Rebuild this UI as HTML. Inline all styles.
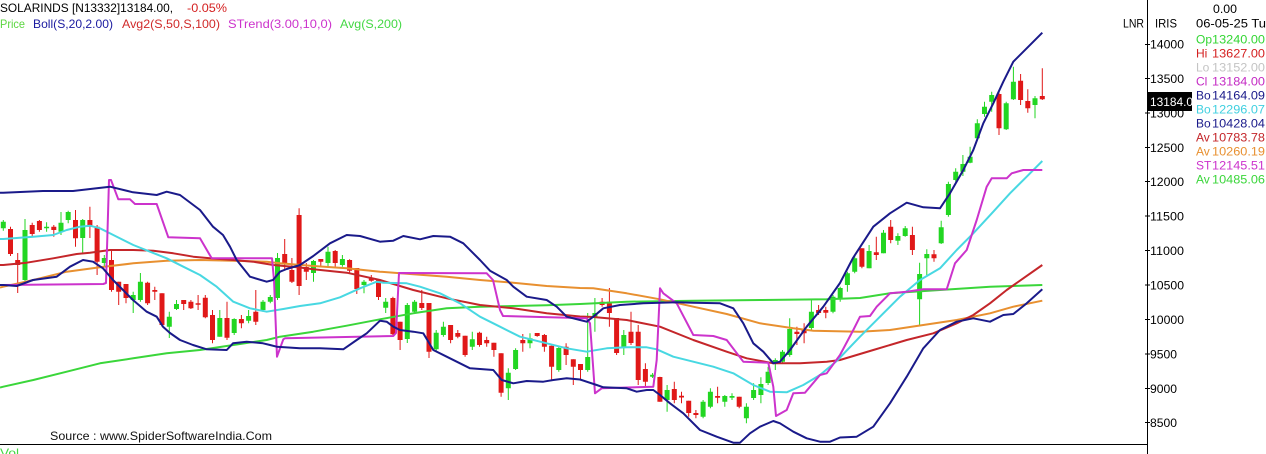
<!DOCTYPE html>
<html><head><meta charset="utf-8"><style>
html,body{margin:0;padding:0;background:#fff;width:1266px;height:454px;overflow:hidden}
svg{display:block}
text{font-family:"Liberation Sans",Arial,sans-serif;font-size:12px}
</style></head><body>
<svg width="1266" height="454" viewBox="0 0 1266 454" xmlns="http://www.w3.org/2000/svg">
<rect width="1266" height="454" fill="#fff"/>
<!-- candles wicks -->
<path fill="none" stroke="#22d622" stroke-width="1" d="M3.3 220V230.7M25 219V282M46.6 222.3V231.7M61 212V235M68.2 210.7V223.3M82.7 219V253M104.3 255V266.7M133.2 291.7V313M140.4 273V301.7M169.3 311.7V338M176.5 300V310M219.8 310V336.7M234.2 318.3V335M248.6 310V323.3M263 300V311.7M270.3 295V303.3M277.5 253V300M313.5 260V281.7M328 246.7V267M342.4 255V266.7M364 280V293.3M385.7 298V313M407.3 303V343M414.6 300V313.3M436.2 330V351.7M443.4 321.7V336.7M472.3 331.7V350M508.3 368.3V400M515.6 348.3V370M530 333.3V348.3M558.8 346.7V371.7M587.7 313V371.7M594.9 298V331.7M623.8 330V355M652.6 373V378M667.1 385V411.7M703.1 400V418.3M710.4 388.3V408.3M724.8 395V406.7M732 393.3V400M746.4 403.3V423.3M753.6 383.3V400M760.9 377.3V403.3M768.1 366.7V385M775.3 358.3V370M782.5 350V363.3M789.7 318.3V356.7M811.4 300V330M833 295V313.3M840.2 286.7V301.7M847.4 271.7V291.7M854.7 255V273.3M869.1 245V268.3M883.5 230V253.3M897.9 233.3V245M905.2 226V236.7M919.6 262.7V325M926.8 249.3V275M941.2 220.7V244M948.4 181.7V216.7M955.7 168.3V181.7M962.9 155V176M970.1 146.7V163.3M977.3 119.3V140M984.5 101.7V116.7M991.7 91.7V111.7M1006.2 101.7V130M1013.4 66.7V100M1035 96V118.3"/>
<path fill="none" stroke="#e01818" stroke-width="1" d="M10.5 226.7V256M17.7 253V293M32.2 222.7V236M39.4 220V231.7M53.8 225V236.7M75.5 210V246.7M89.9 206.7V238M97.1 225V275M111.5 250V291.7M118.7 281.7V305M126 284V303.3M147.6 281.7V305M154.8 286.7V300M162 293.3V326.7M183.7 300V310M190.9 300V309M198.1 295V310M205.3 295V318.3M212.5 310V343.3M227 301.7V340M241.4 315V328.3M255.8 290V325M284.7 239V270M291.9 258V283M299.1 208.3V295M306.3 263V280M320.8 259V267.3M335.2 250V268.3M349.6 259.3V273.3M356.8 268V294M371.3 275V281.7M378.5 280V300M392.9 296.7V335M400.1 321.7V350M421.8 290V310M429 303V358M450.6 325V343.3M457.8 330V338.3M465.1 335.7V356.7M479.5 331.7V346.7M486.7 336.7V346.7M493.9 342.7V356.7M501.1 353.3V396.7M522.8 334V351.7M537.2 333V336.7M544.4 334V351.7M551.6 345.7V380M566.1 343.3V365M573.3 359.3V385M580.5 364V379M602.1 298V306.7M609.4 288V326.7M616.6 318V355M631 311.7V345M638.2 325V385M645.4 363.3V386.7M659.9 376.7V401.7M674.3 381.7V403.3M681.5 391.7V403.3M688.7 400.7V416.7M695.9 410V418.3M717.6 386.7V403.3M739.2 396.7V408.3M796.9 326.7V345M804.1 323.3V343.3M818.6 305V315M825.8 306.7V318.3M861.9 248.3V268.3M876.3 236.7V260M890.7 220V243.3M912.4 226.7V255M934 250V261.7M999 91.7V135M1020.6 74V105M1027.8 89.3V112.7M1042.3 68.3V100"/>
<!-- candle bodies -->
<path fill="#22d622" d="M0.8 221.7h5V228.3h-5zM22.5 230h5V280h-5zM44.1 226.7h5V228.3h-5zM58.5 222.7h5V231.7h-5zM65.7 212h5V220h-5zM80.2 220h5V238h-5zM101.8 258h5V263h-5zM130.7 295h5V300h-5zM137.9 281.7h5V300h-5zM166.8 316.7h5V326.7h-5zM174 304h5V309h-5zM217.3 318h5V336.7h-5zM231.7 319h5V333h-5zM246.1 316h5V320.7h-5zM260.5 301.7h5V310h-5zM267.8 297h5V301.7h-5zM275 258h5V298h-5zM311 261h5V273h-5zM325.5 251.7h5V263h-5zM339.9 259h5V265h-5zM361.5 281.7h5V285h-5zM383.2 301.7h5V307.7h-5zM404.8 305h5V339h-5zM412.1 301.7h5V311.7h-5zM433.7 332.7h5V349.3h-5zM440.9 326.7h5V335h-5zM469.8 339.3h5V346.7h-5zM505.8 372.7h5V388.3h-5zM513.1 350h5V369h-5zM527.5 338.3h5V343.3h-5zM556.3 348h5V370h-5zM585.2 357h5V370h-5zM592.4 313h5V318h-5zM621.3 335h5V348h-5zM650.1 374.8h5V376.7h-5zM664.6 390h5V400h-5zM700.6 401.7h5V416.7h-5zM707.9 391.7h5V406.7h-5zM722.3 396h5V401.7h-5zM729.5 396h5V397.8h-5zM743.9 406.7h5V418.3h-5zM751.1 390h5V398h-5zM758.4 384h5V395h-5zM765.6 371.7h5V383h-5zM772.8 360h5V362.7h-5zM780 351.7h5V361.7h-5zM787.2 329h5V355h-5zM808.9 311.7h5V328h-5zM830.5 296.7h5V311.7h-5zM837.7 288h5V298h-5zM844.9 273.3h5V285h-5zM852.2 258.3h5V271.7h-5zM866.6 251h5V268.3h-5zM881 232.7h5V253.3h-5zM895.4 236h5V240.7h-5zM902.7 228.3h5V236h-5zM917.1 274h5V299.3h-5zM924.3 254h5V258.3h-5zM938.7 227.3h5V243.3h-5zM945.9 184h5V215h-5zM953.2 171.7h5V180h-5zM960.4 164h5V171.7h-5zM967.6 156.7h5V162.7h-5zM974.8 123.3h5V138.3h-5zM982 106.7h5V114h-5zM989.2 95h5V101.7h-5zM1003.7 103.3h5V129.3h-5zM1010.9 81.7h5V99.3h-5zM1032.5 98.3h5V105h-5z"/>
<path fill="#e01818" d="M8 229h5V254h-5zM15.2 260h5V265h-5zM29.7 225h5V234h-5zM36.9 221h5V230h-5zM51.3 226.7h5V230h-5zM73 220h5V238.3h-5zM87.4 220h5V226.7h-5zM94.6 226.7h5V261.7h-5zM109 260h5V290h-5zM116.2 281.7h5V291.7h-5zM123.5 284h5V298h-5zM145.1 282.7h5V303.3h-5zM152.3 290h5V291.7h-5zM159.5 293.3h5V325h-5zM181.2 300h5V304h-5zM188.4 301.7h5V308.3h-5zM195.6 303.3h5V304.8h-5zM202.8 297.7h5V317.3h-5zM210 315h5V340h-5zM224.5 318h5V337.7h-5zM238.9 319h5V323.3h-5zM253.3 311.7h5V321.7h-5zM282.2 254h5V263h-5zM289.4 270h5V281.7h-5zM296.6 215h5V286h-5zM303.8 267h5V271.7h-5zM318.3 259h5V261.7h-5zM332.7 251h5V263h-5zM347.1 260h5V270.7h-5zM354.3 268h5V289h-5zM368.8 278h5V280.7h-5zM376 280h5V297h-5zM390.4 298h5V334.3h-5zM397.6 321.7h5V340h-5zM419.3 303h5V308h-5zM426.5 303h5V351.7h-5zM448.1 325h5V340h-5zM455.3 333h5V336.7h-5zM462.6 335.7h5V355h-5zM477 332.7h5V345h-5zM484.2 340h5V343.3h-5zM491.4 342.7h5V350h-5zM498.6 353.3h5V392.7h-5zM520.3 340h5V343.3h-5zM534.7 333h5V336h-5zM541.9 335h5V346.7h-5zM549.1 345.7h5V366.7h-5zM563.6 346.7h5V355h-5zM570.8 359.3h5V366.7h-5zM578 364h5V370h-5zM599.6 301.7h5V305h-5zM606.9 301.7h5V313h-5zM614.1 318h5V353h-5zM628.5 331.7h5V343h-5zM635.7 331.7h5V380h-5zM642.9 369h5V381.7h-5zM657.4 377h5V401.7h-5zM671.8 389h5V400h-5zM679 395.8h5V397.5h-5zM686.2 400.7h5V413h-5zM693.4 413h5V415h-5zM715.1 396h5V397.8h-5zM736.7 396.7h5V406.7h-5zM794.4 331.7h5V334h-5zM801.6 329h5V333.3h-5zM816.1 310h5V313h-5zM823.3 310h5V312.7h-5zM859.4 248.3h5V266.7h-5zM873.8 252.3h5V255h-5zM888.2 226.7h5V240h-5zM909.9 235h5V250h-5zM931.5 254.3h5V258.3h-5zM996.5 94h5V128.3h-5zM1018.1 80.7h5V100h-5zM1025.3 101h5V108.3h-5zM1039.8 96h5V99.3h-5z"/>
<!-- indicator lines -->
<g fill="none" stroke-width="2" stroke-linejoin="round">
<polyline stroke="#3ad63a" points="0,387.5 3.3,386.7 33.3,380 66.7,371.7 100,363.3 133.3,358.3 166.7,353.3 200,350 233.3,345 266.7,340 280,336.7 313.3,331.7 346.7,325.7 380,319.3 413.3,313.3 446.7,308.3 480,306.7 513.3,306 546.7,305.3 580,304 626.7,301.7 693.3,300.7 760,300 826.7,299.3 860,298 890,293.3 940,290 990,286.7 1042.3,285"/>
<polyline stroke="#e89030" points="0,287.5 3.3,286.7 33.3,280 66.7,271.7 100,267.3 133.3,263.3 166.7,260.7 200,260 233.3,260.7 266.7,261.7 280,263.3 313.3,266 346.7,268.3 380,271.7 413.3,274.3 446.7,276.7 480,280 513.3,282.7 546.7,286 580,288 593.3,288.3 626.7,293.3 660,299.3 693.3,306.7 726.7,314 760,323.3 793.3,328.3 813.3,330.7 860,331.7 890,330 923.3,325 956.7,320 990,313.3 1013.3,306.7 1042.3,300.7"/>
<polyline stroke="#c4262a" points="0,265 3.3,265 26.7,262.7 53.3,258.3 76.7,254 90,252.7 110,250 133.3,250 153.3,250.7 173.3,253.3 193.3,256.7 210,258.3 233.3,260 253.3,261.7 273.3,265 300,267.5 313.3,269.3 346.7,272.7 380,280 413.3,290 446.7,298.3 480,305 513.3,308.3 546.7,313.3 580,316.5 593.3,317 626.7,320 660,326.7 693.3,340 726.7,351.7 746.7,358.3 773.3,363.3 800,363.3 826.7,361.7 840,360 873.3,350 906.7,340 933.3,333.3 956.7,323.3 973.3,315 990,303.3 1006.7,290 1023.3,278.3 1042.3,265"/>
<polyline stroke="#48d8e2" points="0,239 3.3,239 33.3,236.7 53.3,235 66.7,230 80,226.7 90,225.7 100,228.3 113.3,235 133.3,245 150,251.7 166.7,258.3 183.3,266.7 200,275 216.7,286.7 233.3,301.7 250,308.3 266.7,311.7 283.3,309 300,306 320,303.3 340,297.3 360,288.3 376.7,281.7 383.3,282.7 406.7,283.3 420,286.7 440,293.3 460,303.3 480,316.7 500,326.7 520,336.7 546.7,343.3 566.7,348.3 586.7,351.7 606.7,348.3 626.7,347.3 646.7,347.3 656.7,349.3 673.3,356.7 693.3,361.7 713.3,366.7 733.3,373.3 753.3,385 770,391.7 786.7,392.3 803.3,385 820,375 836.7,361 860,336.7 880,316.7 900,296.7 920,280 940,268.3 956.7,250 973.3,233.3 993.3,211.7 1010,193.3 1026.7,176.7 1042.3,161"/>
<polyline stroke="#cc33cc" points="0,285 3.3,285 103.3,284 106,283 109,180 111,180 118.3,199.3 130,199.3 135,204 156.7,204 168.3,237.3 200,238.3 211.7,258.3 272,258.3 274,280 277,356.7 283.3,339.3 285,338.3 393.3,336 396,333 399,273 486.7,273.3 493,280 500,310 503,316 586.7,318.3 590,323.3 595,393.3 601.7,388.3 653.3,386.7 656.7,360 660,288.3 663.3,293.3 676.7,303.3 693.3,335 713.3,336 726.7,340 743.3,361.7 768.3,362.7 773.3,386.7 776,416 786.7,410 793.3,393.3 805,392.7 820,375 826.7,373.3 840,355 853.3,330 860,316.7 870,316 876.7,306.7 890,293.3 906.7,291.7 923.3,289.3 946.7,289.3 955,263.3 966.7,250 976.7,220 986.7,186.7 991.7,178.3 1006.7,178.3 1011.7,173.3 1023.3,170 1042.3,170"/>
<polyline stroke="#1a1a8a" points="0,192.7 3.3,192.7 43,191 73,191 96.7,188.3 110,186.7 133,192.3 156.7,195 166.7,191.7 180,195 200,210 213,226.7 223,235 230,246.7 236.7,260 250,276.7 266.7,281.7 273,280 280,271.7 286.7,269 300,265 313.3,256 330,243.3 346.7,235 360,236 380,241.7 393.3,240.7 403.3,236 420,239.3 433.3,236 450,236.7 463.3,243.3 480,260 490,270.7 506.7,280 513.3,286.7 526.7,296.7 546.7,300 556.7,306.7 566.7,316.7 580,320 586.7,321.7 593.3,316.7 603.3,308.3 620,305 643.3,303.3 660,302.7 676.7,302.3 693.3,302.7 720,303.3 733.3,308.3 743.3,323.3 753.3,343.3 763.3,351.7 773.3,363.3 780,361.7 790,350 806.7,326.7 823.3,306.7 840,283 853,258 873.3,226.7 890,213.3 906.7,202.7 923.3,207.3 940,208.3 950,193.3 963.3,170 973.3,150 983.3,123.3 993.3,103.3 1003.3,81.7 1013.3,61.7 1026.7,48.3 1042.3,32.7"/>
<polyline stroke="#1a1a8a" points="0,285 3.3,285 16.7,286 33,280 56.7,276.7 70,266.7 83,260 93,261.7 103,268.3 113,280 123,290 133,300 146.7,311.7 156.7,316.7 163,326.7 170,333 180,340 193,345 206.7,349.3 226.7,350 233,343.3 246.7,341.7 263,343.3 270,345 276.7,346.7 300,348.3 320,348.3 343.3,349.3 356.7,340 366.7,333.3 380,320.7 386.7,321.7 393.3,326.7 400,330 413.3,331.7 423.3,333.3 433.3,350 446.7,356.7 460,363.3 470,368.3 493.3,370 501.7,380 513.3,383.3 526.7,381 543.3,381.7 553.3,380 566.7,378.3 580,379.5 596.7,385 603.3,387.3 626.7,388.3 636.7,391.7 646.7,390 653.3,390 660,395 670,403.3 683.3,413.3 700,430 716.7,436.7 733.3,442.7 740,442.7 750,433.3 760,426.7 773.3,421 780,423.3 793.3,431.7 806.7,438.3 820,441.7 830,441.7 840,437.5 856.7,436.7 873.3,426.7 890,403.3 906.7,376.7 923.3,348.3 940,330 956.7,321.7 973.3,318.3 990,321.7 1003.3,315 1013.3,314 1026.7,303.3 1042.3,289.3"/>
</g>
<!-- frame -->
<line x1="0" y1="444.5" x2="1147" y2="444.5" stroke="#000" stroke-width="1"/>
<line x1="1147.5" y1="0" x2="1147.5" y2="454" stroke="#000" stroke-width="1"/>
<g stroke="#000" stroke-width="1">
<line x1="1145" y1="44.5" x2="1150" y2="44.5"/><line x1="1145" y1="78.5" x2="1150" y2="78.5"/><line x1="1145" y1="113" x2="1150" y2="113"/><line x1="1145" y1="147.5" x2="1150" y2="147.5"/><line x1="1145" y1="181.5" x2="1150" y2="181.5"/><line x1="1145" y1="216" x2="1150" y2="216"/><line x1="1145" y1="250.5" x2="1150" y2="250.5"/><line x1="1145" y1="285" x2="1150" y2="285"/><line x1="1145" y1="319.5" x2="1150" y2="319.5"/><line x1="1145" y1="354" x2="1150" y2="354"/><line x1="1145" y1="388.5" x2="1150" y2="388.5"/><line x1="1145" y1="422.5" x2="1150" y2="422.5"/>
</g>
<g fill="#000">
<text x="1150" y="48.5" textLength="34" lengthAdjust="spacingAndGlyphs">14000</text>
<text x="1150" y="83" textLength="34" lengthAdjust="spacingAndGlyphs">13500</text>
<text x="1150" y="117.5" textLength="34" lengthAdjust="spacingAndGlyphs">13000</text>
<text x="1150" y="151.8" textLength="34" lengthAdjust="spacingAndGlyphs">12500</text>
<text x="1150" y="186.2" textLength="34" lengthAdjust="spacingAndGlyphs">12000</text>
<text x="1150" y="220.6" textLength="34" lengthAdjust="spacingAndGlyphs">11500</text>
<text x="1150" y="255.1" textLength="34" lengthAdjust="spacingAndGlyphs">11000</text>
<text x="1150" y="289.5" textLength="34" lengthAdjust="spacingAndGlyphs">10500</text>
<text x="1150" y="323.9" textLength="34" lengthAdjust="spacingAndGlyphs">10000</text>
<text x="1150" y="358.3" textLength="27" lengthAdjust="spacingAndGlyphs">9500</text>
<text x="1150" y="392.8" textLength="27" lengthAdjust="spacingAndGlyphs">9000</text>
<text x="1150" y="427.2" textLength="27" lengthAdjust="spacingAndGlyphs">8500</text>
</g>
<rect x="1148" y="92" width="44" height="19" fill="#000"/>
<text x="1150" y="106" fill="#fff" font-size="12.5" textLength="43" lengthAdjust="spacingAndGlyphs">13184.0</text>
<!-- top-right info -->
<text x="1123" y="27.5" fill="#000" textLength="21" lengthAdjust="spacingAndGlyphs">LNR</text>
<text x="1155" y="27.5" fill="#000" textLength="22" lengthAdjust="spacingAndGlyphs">IRIS</text>
<text x="1213" y="13" fill="#000" textLength="24" lengthAdjust="spacingAndGlyphs">0.00</text>
<text x="1196" y="27.5" fill="#000" textLength="70" lengthAdjust="spacingAndGlyphs">06-05-25 Tu</text>
<g font-size="12">
<text x="1196" y="43.5" fill="#33d633">Op</text><text x="1212" y="43.5" fill="#33d633" font-size="12.5" textLength="53" lengthAdjust="spacingAndGlyphs">13240.00</text>
<text x="1196" y="57.5" fill="#d42020">Hi</text><text x="1212" y="57.5" fill="#d42020" font-size="12.5" textLength="53" lengthAdjust="spacingAndGlyphs">13627.00</text>
<text x="1196" y="71.5" fill="#c4c4c4">Lo</text><text x="1212" y="71.5" fill="#c4c4c4" font-size="12.5" textLength="53" lengthAdjust="spacingAndGlyphs">13152.00</text>
<text x="1196" y="85.5" fill="#c42ac4">Cl</text><text x="1212" y="85.5" fill="#c42ac4" font-size="12.5" textLength="53" lengthAdjust="spacingAndGlyphs">13184.00</text>
<text x="1196" y="99.5" fill="#1a1a8a">Bo</text><text x="1212" y="99.5" fill="#1a1a8a" font-size="12.5" textLength="53" lengthAdjust="spacingAndGlyphs">14164.09</text>
<text x="1196" y="113.5" fill="#40d0e0">Bo</text><text x="1212" y="113.5" fill="#40d0e0" font-size="12.5" textLength="53" lengthAdjust="spacingAndGlyphs">12296.07</text>
<text x="1196" y="127.5" fill="#1a1a8a">Bo</text><text x="1212" y="127.5" fill="#1a1a8a" font-size="12.5" textLength="53" lengthAdjust="spacingAndGlyphs">10428.04</text>
<text x="1196" y="141.5" fill="#c4262a">Av</text><text x="1212" y="141.5" fill="#c4262a" font-size="12.5" textLength="53" lengthAdjust="spacingAndGlyphs">10783.78</text>
<text x="1196" y="155.5" fill="#e89030">Av</text><text x="1212" y="155.5" fill="#e89030" font-size="12.5" textLength="53" lengthAdjust="spacingAndGlyphs">10260.19</text>
<text x="1196" y="169.5" fill="#cc33cc">ST</text><text x="1212" y="169.5" fill="#cc33cc" font-size="12.5" textLength="53" lengthAdjust="spacingAndGlyphs">12145.51</text>
<text x="1196" y="183.5" fill="#3ad63a">Av</text><text x="1212" y="183.5" fill="#3ad63a" font-size="12.5" textLength="53" lengthAdjust="spacingAndGlyphs">10485.06</text>
</g>
<!-- title -->
<text x="0" y="12" fill="#000" textLength="173" lengthAdjust="spacingAndGlyphs">SOLARINDS [N13332]13184.00,</text>
<text x="187" y="12" fill="#d42020" textLength="40" lengthAdjust="spacingAndGlyphs">-0.05%</text>
<text x="0" y="28" fill="#5cd640" textLength="25" lengthAdjust="spacingAndGlyphs">Price</text>
<text x="33" y="28" fill="#1a1aa0" textLength="80" lengthAdjust="spacingAndGlyphs">Boll(S,20,2.00)</text>
<text x="122" y="28" fill="#d02a2a" textLength="98" lengthAdjust="spacingAndGlyphs">Avg2(S,50,S,100)</text>
<text x="228" y="28" fill="#cc33cc" textLength="104" lengthAdjust="spacingAndGlyphs">STrend(3.00,10,0)</text>
<text x="340" y="28" fill="#44d844" textLength="62" lengthAdjust="spacingAndGlyphs">Avg(S,200)</text>
<!-- footer -->
<text x="50" y="440" fill="#111" textLength="222" lengthAdjust="spacingAndGlyphs">Source : www.SpiderSoftwareIndia.Com</text>
<text x="0" y="457" fill="#44d844" textLength="19" lengthAdjust="spacingAndGlyphs">Vol</text>
</svg>
</body></html>
